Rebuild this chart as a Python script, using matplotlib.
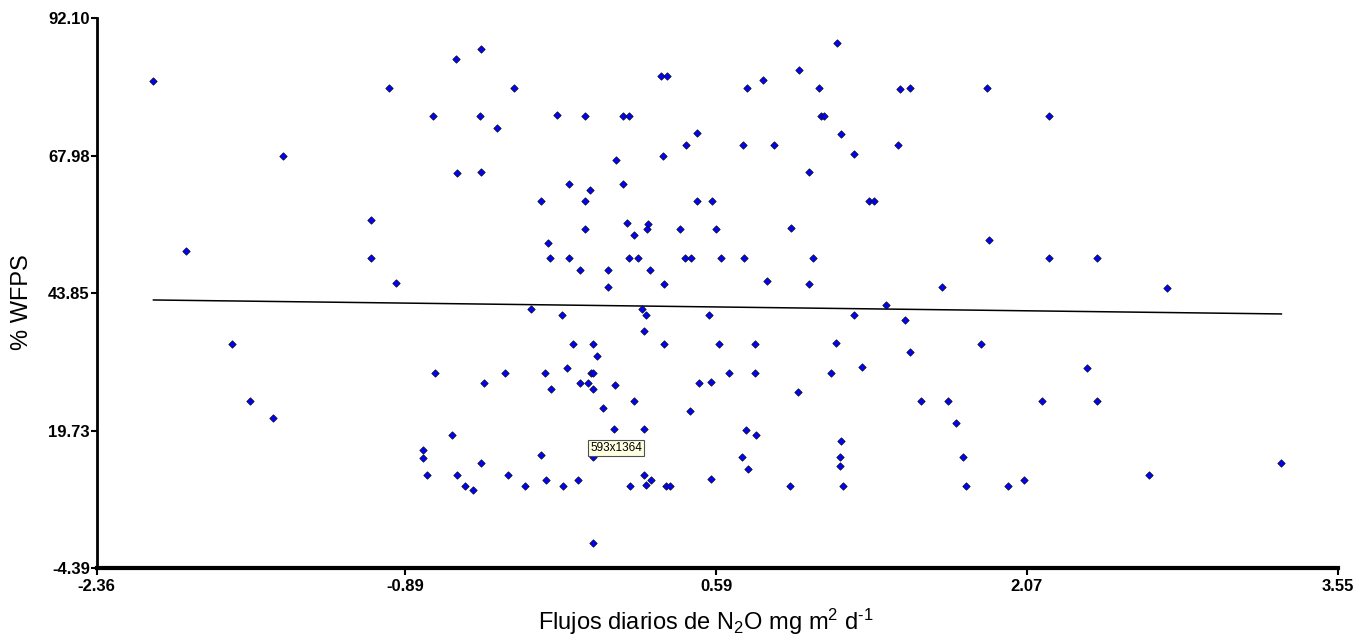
import matplotlib
matplotlib.use("Agg")
import matplotlib.pyplot as plt
import numpy as np

# N2O daily flux (x) vs %WFPS (y)
flux = [
    -2.090, -1.934, -1.475, -0.967, -0.757, -1.052, -1.052, -0.937, -0.650, -0.529,
    -0.371, -0.533, -0.452, -0.168, -0.037, 0.147, 0.174, -0.643, -0.529, 0.325,
    0.357, 0.737, 0.813, 0.985, 1.166, 1.080, 1.090, 1.106, 1.465, 1.511,
    1.184, 1.246, 1.454, 0.500, 0.447, 0.719, 0.867, 0.335, 0.115, 1.033,
    -0.109, 0.145, -0.012, -0.244, -0.034, 0.500, 0.571, 1.317, 1.341, -0.037,
    0.165, 0.266, 0.261, 0.201, 0.419, 0.590, 0.947, -0.211, -0.203, -0.109,
    0.173, 0.216, 0.441, 0.468, 0.614, 0.723, 1.050, -0.060, 0.074, 0.273,
    0.074, 0.340, 0.834, 1.031, -0.290, -0.144, 0.236, 0.255, 0.554, 1.246,
    1.400, 1.882, 2.173, 1.891, 2.173, 2.405, 1.667, 2.735, 1.489, -1.716,
    -1.632, -1.521, -0.748, -0.805, -0.805, -0.789, 0.246, -0.093, 0.004, 0.344,
    0.605, 0.774, 1.160, 0.021, -0.416, -0.225, -0.122, -0.006, 0.004, 0.652,
    0.774, 1.138, 1.284, -0.514, -0.197, -0.060, -0.022, 0.004, 0.107, 0.507,
    0.564, 0.979, 0.198, 0.053, 0.464, 0.103, 0.246, -0.667, 0.734, 0.778,
    1.185, -0.244, 0.714, 1.180, 1.180, -0.529, -0.643, -0.402, 0.246, 0.742,
    -0.220, -0.068, 0.282, 0.567, -0.608, -0.569, -0.321, -0.139, 0.182, 0.258,
    0.352, 0.370, 0.942, 1.193, 0.004, 0.002, 1.511, 1.850, 2.357, 1.565,
    1.692, 2.144, 2.406, 1.730, 1.768, 1.780, 1.980, 2.057, 2.651, 3.282,
]
wfps = [
    81.15, 51.28, 68.00, 79.93, 74.96, 56.72, 50.05, 45.61, 84.96, 86.66,
    79.93, 74.96, 72.80, 75.14, 74.96, 74.96, 74.96, 64.91, 65.09, 82.03,
    82.03, 79.93, 81.22, 83.08, 87.71, 79.93, 74.96, 74.96, 79.75, 79.93,
    71.80, 68.24, 69.93, 71.98, 69.93, 69.93, 69.93, 68.00, 67.19, 65.09,
    62.98, 62.98, 61.93, 60.10, 60.10, 60.10, 60.10, 60.10, 60.10, 55.09,
    56.14, 55.96, 55.09, 54.03, 55.09, 55.09, 55.31, 52.74, 50.05, 50.05,
    50.05, 50.05, 50.05, 50.05, 50.05, 50.05, 50.05, 47.95, 47.95, 47.95,
    45.02, 45.44, 46.02, 45.44, 41.02, 40.00, 41.02, 40.00, 40.00, 40.00,
    41.86, 79.93, 74.96, 53.21, 50.05, 50.05, 45.02, 44.84, 39.09, 34.97,
    24.91, 21.99, 29.93, 16.37, 15.02, 11.93, 37.30, 34.97, 34.97, 34.97,
    34.97, 34.97, 35.19, 32.86, 29.93, 29.93, 30.76, 29.93, 29.93, 29.93,
    29.93, 29.93, 30.98, 28.07, 27.02, 28.07, 28.07, 27.02, 27.83, 28.07,
    28.30, 26.60, 24.97, 23.69, 23.27, 20.11, 20.11, 19.06, 19.88, 19.06,
    18.00, 15.49, 15.09, 15.09, 13.62, 14.04, 11.93, 11.93, 11.93, 12.99,
    11.11, 11.11, 11.11, 11.34, 10.06, 9.35, 10.06, 10.06, 10.06, 10.23,
    10.06, 10.06, 10.06, 10.06, 0.00, 15.14, 33.51, 34.97, 30.76, 24.91,
    24.91, 24.91, 24.91, 21.11, 15.09, 10.06, 10.06, 11.11, 11.93, 14.04,
]

# regression line
fit_intercept = 41.73
fit_slope = -0.456

x_ticks = [-2.36, -0.89, 0.59, 2.07, 3.55]
y_ticks = [-4.39, 19.73, 43.85, 67.98, 92.10]
x_tick_labels = ["-2.36", "-0.89", "0.59", "2.07", "3.55"]
y_tick_labels = ["-4.39", "19.73", "43.85", "67.98", "92.10"]

x_label = "Flujos diarios de N$_2$O mg m$^2$ d$^{\u2010 1}$"
y_label = "% WFPS"
tooltip_text = "593x1364"

plt.rcParams["mathtext.fontset"] = "custom"
plt.rcParams["mathtext.rm"] = "Liberation Sans"
plt.rcParams["mathtext.it"] = "Liberation Sans:italic"
plt.rcParams["mathtext.default"] = "regular"
plt.rcParams["font.family"] = ["Liberation Sans", "DejaVu Sans"]

fig = plt.figure(figsize=(13.55, 6.39), dpi=100)
ax = fig.add_axes([0.0714, 0.1106, 0.9158, 0.8608])

xf = np.array([min(flux), max(flux)])
ax.plot(xf, fit_intercept + fit_slope * xf, color="black", lw=1.1, zorder=2)

ax.scatter(flux, wfps, marker="D", s=14, facecolor="#0000ff",
           edgecolor="#101030", linewidths=0.6, zorder=3)

ax.set_xlim(x_ticks[0], x_ticks[-1])
ax.set_ylim(y_ticks[0], y_ticks[-1])
ax.set_xticks(x_ticks)
ax.set_yticks(y_ticks)
tick_font = dict(family=["Liberation Sans Narrow", "Liberation Sans"],
                 weight="bold", size=12)
ax.set_xticklabels(x_tick_labels, **tick_font)
ax.set_yticklabels(y_tick_labels, **tick_font)

for s in ["top", "right"]:
    ax.spines[s].set_visible(False)
ax.spines["left"].set_linewidth(2)
ax.spines["bottom"].set_linewidth(3)
ax.tick_params(axis="y", direction="out", length=4, width=1.5, pad=1)
ax.tick_params(axis="x", direction="out", length=5, width=1.5, pad=3)

fig.text(22 / 1355, 1 - 302 / 639, y_label, rotation=90, fontsize=17,
         ha="center", va="center")
fig.text(706 / 1355, 1 - 622 / 639, x_label, fontsize=17,
         ha="center", va="center")

fig.text(616 / 1355, 1 - 448 / 639, tooltip_text, fontsize=8.5,
         ha="center", va="center", zorder=10,
         bbox=dict(boxstyle="square,pad=0.2", facecolor="#ffffe1",
                   edgecolor="#505050", linewidth=0.8))

fig.savefig("out.png", dpi=100)
